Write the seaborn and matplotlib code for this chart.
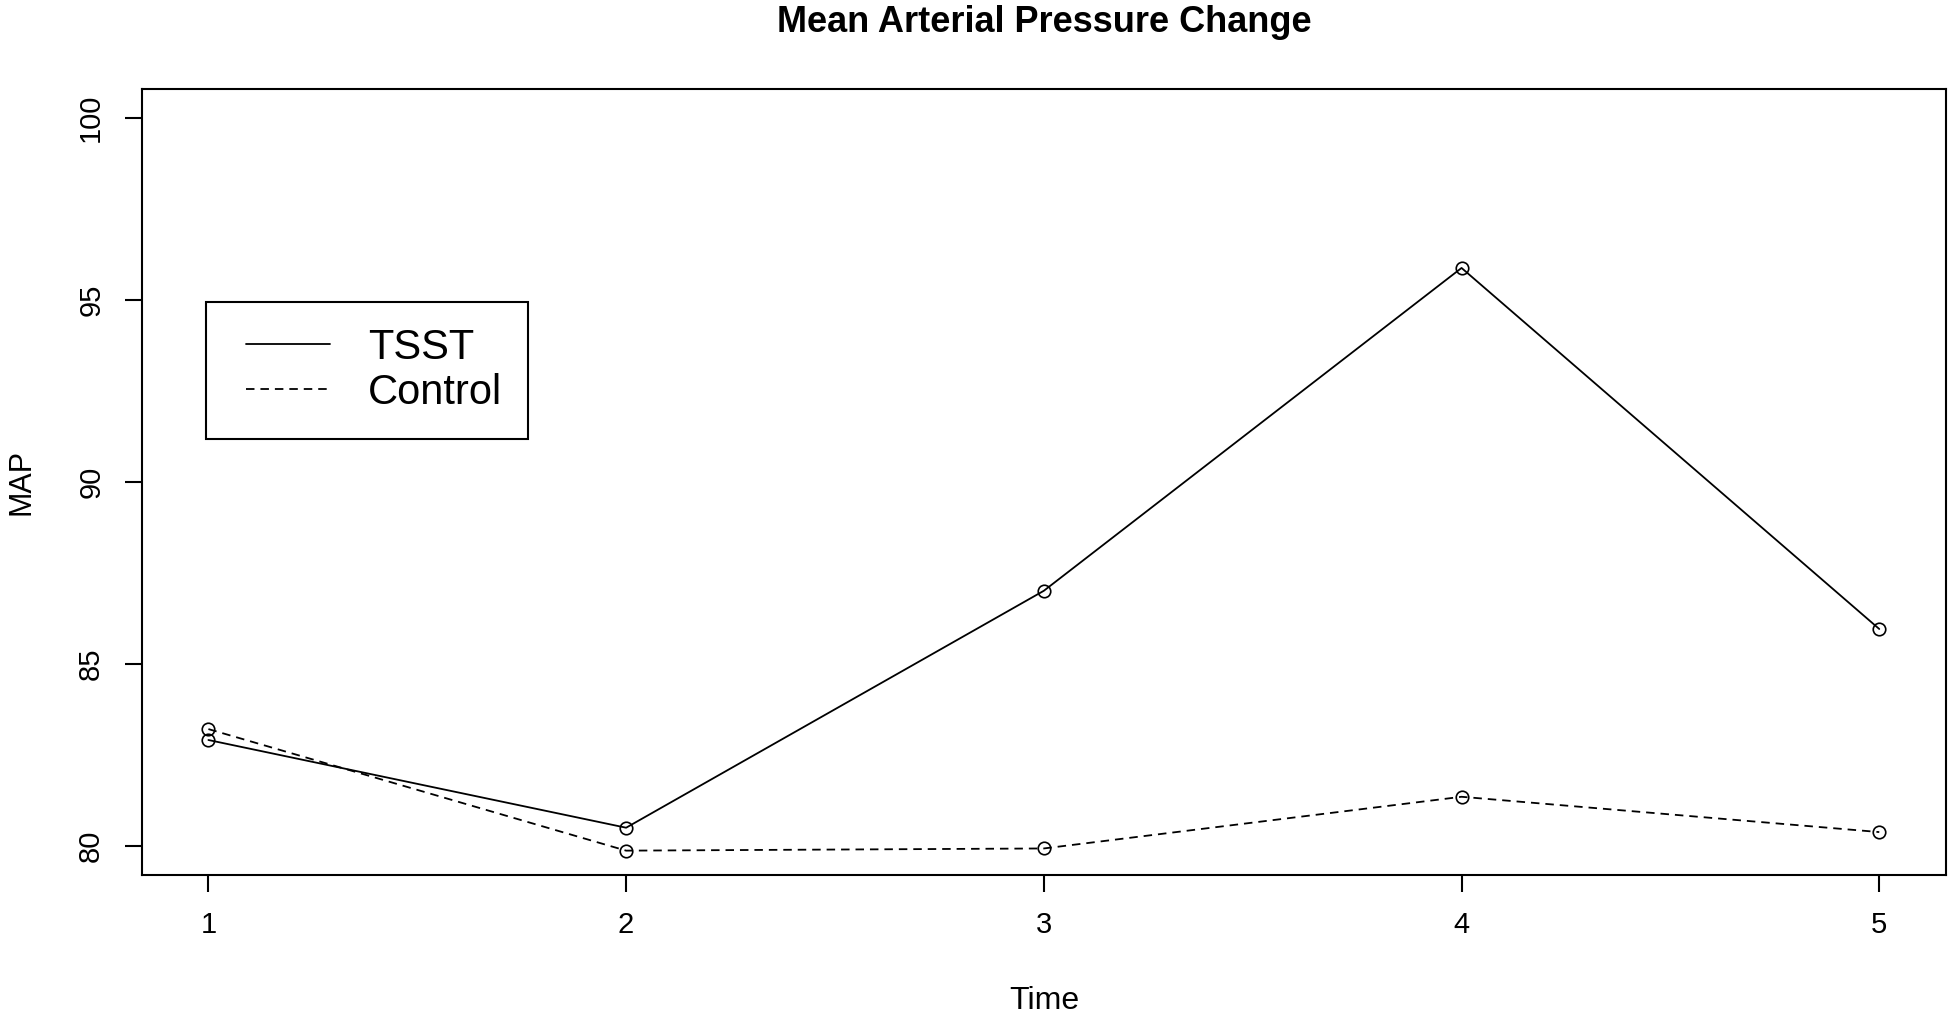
import numpy as np
import pandas as pd
import seaborn as sns
import matplotlib.pyplot as plt
from matplotlib.lines import Line2D
from matplotlib.legend_handler import HandlerLine2D

# Dados
tempo = [1, 2, 3, 4, 5]
map_tsst = [82.91, 80.50, 87.01, 95.88, 85.96]
map_control = [83.21, 79.87, 79.93, 81.35, 80.38]
grupos = ["TSST", "Control"]

df = pd.DataFrame({
    "Time": tempo * 2,
    "MAP": map_tsst + map_control,
    "Group": ["TSST"] * len(tempo) + ["Control"] * len(tempo),
})

sns.set_style("white")
plt.rcParams["font.family"] = ["Liberation Sans", "DejaVu Sans"]
plt.rcParams["text.color"] = "black"
plt.rcParams["axes.labelcolor"] = "black"
plt.rcParams["xtick.color"] = "black"
plt.rcParams["ytick.color"] = "black"

dash_ctrl = (4.7, 3.3)
lw = 1.3

fig = plt.figure(figsize=(19.5, 10.17), dpi=100)
ax = fig.add_axes([0.0726, 0.1396, 0.998 - 0.0726, 0.9126 - 0.1396])

sns.lineplot(ax=ax, data=df, x="Time", y="MAP", style="Group", style_order=grupos,
             dashes={"TSST": "", "Control": dash_ctrl},
             markers={"TSST": "o", "Control": "o"},
             color="black", lw=lw, ms=9, mfc="none", mec="black", mew=1.2,
             errorbar=None, legend=False)

ax.set_xlim(0.84, 5.16)
ax.set_ylim(79.2, 100.8)
ax.set_xticks(tempo)
ax.set_yticks([80, 85, 90, 95, 100])

for s in ax.spines.values():
    s.set_visible(True)
    s.set_color("black")
    s.set_linewidth(1.5)

ax.tick_params(axis="both", direction="out", length=12.2, width=1.5, color="black",
               labelsize=21, labelcolor="black", bottom=True, left=True)
ax.tick_params(axis="x", pad=14)
ax.tick_params(axis="y", pad=14, labelrotation=90)
for lab in ax.get_yticklabels():
    lab.set_va("center")

ax.set_title("Mean Arterial Pressure Change", fontsize=26, fontweight="bold",
             pad=41, color="black")
ax.set_xlabel("Time", fontsize=23)
ax.set_ylabel("MAP", fontsize=22)
ax.xaxis.set_label_coords(0.5, -0.141)
ax.yaxis.set_label_coords(-0.058, 0.5)

# legenda sem marcadores, como no original
handles = [
    Line2D([], [], color="black", lw=lw, linestyle="-"),
    Line2D([], [], color="black", lw=lw, dashes=dash_ctrl),
]
leg = ax.legend(handles, grupos, loc="upper left", bbox_to_anchor=(0.0357, 0.7287),
                borderaxespad=0, fontsize=30, frameon=True, fancybox=False,
                edgecolor="black", framealpha=1, handlelength=2.35,
                handletextpad=0.92, labelspacing=0.12, borderpad=0.62,
                handler_map={Line2D: HandlerLine2D(xpad=0.336)})
leg.get_frame().set_linewidth(1.5)

fig.savefig("out.png", dpi=100)
